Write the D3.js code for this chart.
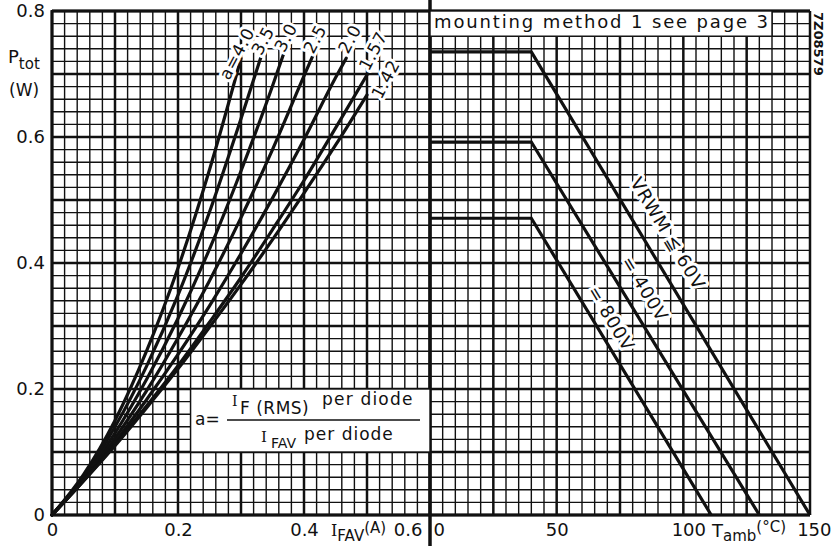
<!DOCTYPE html>
<html>
<head>
<meta charset="utf-8">
<script src="https://cdn.jsdelivr.net/npm/d3@7"></script>
<style>
	html, body { margin: 0; padding: 0; background: #fff; }
	svg { display: block; font-family: "DejaVu Sans", sans-serif; }
	.halo { paint-order: stroke; stroke: #fff; stroke-width: 6px; stroke-linejoin: round; }
</style>
</head>
<body>
<svg id="chart" width="832" height="546"></svg>
<script>
	'use strict';

	// axis ticks
	var currentTicks = [0, 0.2, 0.4, 0.6];
	var powerTicks = [0, 0.2, 0.4, 0.6, 0.8];
	var tempTicks = [0, 50, 100, 150];

	// left panel: P_tot vs I_FAV for each form factor a
	var formFactors = ['a=4.0', '3.5', '3.0', '2.5', '2.0', '1.57', '1.42'];
	var curveCurrents = [
		[0, 0.05, 0.10, 0.15, 0.20, 0.25, 0.30],
		[0, 0.05, 0.10, 0.15, 0.20, 0.25, 0.30, 0.332],
		[0, 0.05, 0.10, 0.15, 0.20, 0.25, 0.30, 0.35, 0.367],
		[0, 0.05, 0.10, 0.15, 0.20, 0.25, 0.30, 0.35, 0.40, 0.414],
		[0, 0.05, 0.10, 0.15, 0.20, 0.25, 0.30, 0.35, 0.40, 0.45, 0.467],
		[0, 0.05, 0.10, 0.15, 0.20, 0.25, 0.30, 0.35, 0.40, 0.45, 0.502],
		[0, 0.05, 0.10, 0.15, 0.20, 0.25, 0.30, 0.35, 0.40, 0.45, 0.50]];
	var curvePowers = [
		[0, 0.064, 0.150, 0.260, 0.392, 0.548, 0.725],
		[0, 0.061, 0.140, 0.236, 0.349, 0.481, 0.629, 0.728],
		[0, 0.059, 0.130, 0.215, 0.312, 0.422, 0.546, 0.681, 0.730],
		[0, 0.057, 0.122, 0.197, 0.281, 0.372, 0.472, 0.580, 0.697, 0.729],
		[0, 0.055, 0.116, 0.183, 0.255, 0.332, 0.415, 0.503, 0.596, 0.694, 0.725],
		[0, 0.054, 0.112, 0.173, 0.237, 0.306, 0.377, 0.453, 0.531, 0.614, 0.702],
		[0, 0.054, 0.110, 0.170, 0.232, 0.298, 0.366, 0.437, 0.511, 0.587, 0.667]];

	// right panel: derating vs T_amb
	var deratingLabels = ['VRWM \u2266 60V', '= 400V', '= 800V'];
	var deratingTemps = [[0, 40, 150], [0, 40, 130], [0, 40, 111]];
	var deratingPowers = [[0.735, 0.735, 0], [0.592, 0.592, 0], [0.471, 0.471, 0]];

	// label placement (pixels, in rotated frame)
	var curveLabelPos = [
		{anchor: 'end', dx: 30, dy: 0}, {anchor: 'start', dx: 0, dy: 0},
		{anchor: 'start', dx: 2, dy: 0}, {anchor: 'start', dx: 1, dy: 0},
		{anchor: 'start', dx: 4, dy: 0}, {anchor: 'start', dx: 1, dy: 0},
		{anchor: 'start', dx: 2, dy: 15}];
	var deratingLabelPos = [{t: 86, off: 17}, {t: 78, off: 14}, {t: 66, off: 10}];

	var ink = '#111';
	var svg = d3.select('#chart');

	var xI = d3.scaleLinear().domain([0, 0.6]).range([52, 430]);
	var xT = d3.scaleLinear().domain([0, 150]).range([430, 810]);
	var y = d3.scaleLinear().domain([0, 0.8]).range([515, 11]);

	// grid
	var grid = svg.append('g');
	var gridP = d3.range(41).map(function(k) {return {v: k * 0.02, major: k % 5 === 0};});
	var gridI = d3.range(31).map(function(k) {return {v: k * 0.02, major: k % 5 === 0};});
	var gridT = d3.range(31).map(function(k) {return {v: k * 5, major: k % 5 === 0};});

	function width(d) {return d.major ? 2.5 : 1.4;}

	grid.selectAll('.h').data(gridP).enter().append('line')
		.attr('x1', xI(0)).attr('x2', xT(150))
		.attr('y1', function(d) {return y(d.v);})
		.attr('y2', function(d) {return y(d.v);})
		.attr('stroke', ink).attr('stroke-width', width);
	grid.selectAll('.vi').data(gridI).enter().append('line')
		.attr('x1', function(d) {return xI(d.v);})
		.attr('x2', function(d) {return xI(d.v);})
		.attr('y1', y(0)).attr('y2', y(0.8))
		.attr('stroke', ink).attr('stroke-width', width);
	grid.selectAll('.vt').data(gridT).enter().append('line')
		.attr('x1', function(d) {return xT(d.v);})
		.attr('x2', function(d) {return xT(d.v);})
		.attr('y1', y(0)).attr('y2', y(0.8))
		.attr('stroke', ink).attr('stroke-width', width);

	// frame
	grid.append('line').attr('x1', xI(0)).attr('x2', xI(0)).attr('y1', y(0) + 1).attr('y2', y(0.8) - 1)
		.attr('stroke', ink).attr('stroke-width', 3);
	grid.append('line').attr('x1', xI(0)).attr('x2', xT(150)).attr('y1', y(0)).attr('y2', y(0))
		.attr('stroke', ink).attr('stroke-width', 3);
	grid.append('line').attr('x1', xI(0)).attr('x2', xT(150)).attr('y1', y(0.8)).attr('y2', y(0.8))
		.attr('stroke', ink).attr('stroke-width', 3);
	grid.append('line').attr('x1', xI(0.6)).attr('x2', xI(0.6)).attr('y1', 0).attr('y2', 546)
		.attr('stroke', ink).attr('stroke-width', 3.5);

	// formula box
	svg.append('rect')
		.attr('x', xI(0.22)).attr('y', y(0.2))
		.attr('width', xI(0.6) - xI(0.22)).attr('height', y(0.1) - y(0.2))
		.attr('fill', '#fff').attr('stroke', ink).attr('stroke-width', 1.4);
	var fb = svg.append('g').attr('fill', ink);
	fb.append('text').attr('x', 195).attr('y', 425).attr('font-size', 17).text('a=');
	fb.append('line').attr('x1', 227).attr('x2', 420).attr('y1', 420).attr('y2', 420)
		.attr('stroke', ink).attr('stroke-width', 1.5);
	var num = fb.append('text').attr('x', 232).attr('y', 406).attr('font-size', 17);
	num.append('tspan').attr('font-family', '"DejaVu Serif", serif').attr('font-size', 14).text('I');
	num.append('tspan').attr('x', 240).attr('y', 414).attr('letter-spacing', 0.5).text('F (RMS)');
	num.append('tspan').attr('x', 322).attr('y', 405).attr('letter-spacing', 1.2).text('per diode');
	var den = fb.append('text').attr('x', 261).attr('y', 442).attr('font-size', 17);
	den.append('tspan').attr('font-family', '"DejaVu Serif", serif').attr('font-size', 15).text('I');
	den.append('tspan').attr('x', 271).attr('y', 448).attr('font-size', 14).text('FAV');
	den.append('tspan').attr('x', 304).attr('y', 440).attr('letter-spacing', 1).text('per diode');

	// mounting box
	svg.append('rect')
		.attr('x', xT(0)).attr('y', y(0.8))
		.attr('width', xT(135) - xT(0)).attr('height', y(0.76) - y(0.8))
		.attr('fill', '#fff').attr('stroke', ink).attr('stroke-width', 1.4);
	svg.append('text').attr('x', 434).attr('y', 28).attr('font-size', 18).attr('fill', ink)
		.attr('textLength', 334).attr('lengthAdjust', 'spacing')
		.text('mounting  method 1 see  page 3');

	// P_tot curves
	var line = d3.line()
		.x(function(d) {return xI(d[0]);})
		.y(function(d) {return y(d[1]);})
		.curve(d3.curveMonotoneX);
	var curves = formFactors.map(function(name, i) {
		return {name: name, pts: curveCurrents[i].map(function(c, j) {return [c, curvePowers[i][j]];})};});

	svg.append('g').selectAll('path').data(curves).enter().append('path')
		.attr('d', function(d) {return line(d.pts);})
		.attr('fill', 'none').attr('stroke', ink).attr('stroke-width', 3.2)
		.attr('stroke-linecap', 'round');

	svg.append('g').selectAll('text').data(curves).enter().append('text')
		.attr('class', 'halo')
		.attr('transform', function(d) {
			var e = d.pts[d.pts.length - 1];
			return 'translate(' + xI(e[0]) + ',' + y(e[1]) + ') rotate(-62)';})
		.attr('x', function(d, i) {return curveLabelPos[i].dx;})
		.attr('y', function(d, i) {return curveLabelPos[i].dy;})
		.attr('text-anchor', function(d, i) {return curveLabelPos[i].anchor;})
		.attr('font-size', 17).attr('letter-spacing', 0.8).attr('fill', ink)
		.text(function(d) {return d.name;});

	// derating lines
	var tline = d3.line()
		.x(function(d) {return xT(d[0]);})
		.y(function(d) {return y(d[1]);});
	var derating = deratingLabels.map(function(name, i) {
		return {name: name, pts: deratingTemps[i].map(function(t, j) {return [t, deratingPowers[i][j]];})};});

	svg.append('g').selectAll('path').data(derating).enter().append('path')
		.attr('d', function(d) {return tline(d.pts);})
		.attr('fill', 'none').attr('stroke', ink).attr('stroke-width', 3.2);

	svg.append('g').selectAll('text').data(derating).enter().append('text')
		.attr('class', 'halo')
		.attr('transform', function(d, i) {
			var a = d.pts[1], b = d.pts[2];
			var t = deratingLabelPos[i].t;
			var p = a[1] * (b[0] - t) / (b[0] - a[0]);
			var ang = Math.atan2(y(b[1]) - y(a[1]), xT(b[0]) - xT(a[0])) * 180 / Math.PI;
			return 'translate(' + xT(t) + ',' + y(p) + ') rotate(' + ang + ')';})
		.attr('y', function(d, i) {return -deratingLabelPos[i].off;})
		.attr('text-anchor', 'middle')
		.attr('font-size', 18).attr('letter-spacing', 0.8).attr('fill', ink)
		.text(function(d) {return d.name;});

	// axes
	function fmt(d) {return d === 0 ? '0' : d3.format('.1f')(d);}
	var axY = svg.append('g').attr('transform', 'translate(' + xI(0) + ',0)')
		.call(d3.axisLeft(y).tickValues(powerTicks).tickFormat(fmt).tickSize(0).tickPadding(7));
	var axI = svg.append('g').attr('transform', 'translate(0,' + y(0) + ')')
		.call(d3.axisBottom(xI).tickValues(currentTicks).tickFormat(fmt).tickSize(0).tickPadding(8));
	var axT = svg.append('g').attr('transform', 'translate(0,' + y(0) + ')')
		.call(d3.axisBottom(xT).tickValues(tempTicks).tickSize(0).tickPadding(8));
	[axY, axI, axT].forEach(function(ax) {
		ax.select('.domain').remove();
		ax.selectAll('text').attr('font-size', 18).attr('font-family', '"DejaVu Sans", sans-serif')
			.attr('fill', ink);});
	axI.selectAll('text').filter(function(d) {return d === 0.6;})
		.attr('text-anchor', 'end').attr('x', -8);
	axT.selectAll('text').filter(function(d) {return d === 0;})
		.attr('text-anchor', 'start').attr('x', 3);
	axT.selectAll('text').filter(function(d) {return d === 100;}).attr('x', 5);
	axT.selectAll('text').filter(function(d) {return d === 150;})
		.attr('text-anchor', 'end').attr('x', 21);

	// axis titles
	var ty = svg.append('text').attr('x', 8).attr('y', 63).attr('font-size', 18).attr('fill', ink);
	ty.append('tspan').text('P');
	ty.append('tspan').attr('y', 69).attr('font-size', 15).text('tot');
	svg.append('text').attr('x', 9).attr('y', 96).attr('font-size', 17).attr('fill', ink).text('(W)');

	var ti = svg.append('text').attr('x', 331).attr('y', 536).attr('font-size', 18).attr('fill', ink);
	ti.append('tspan').attr('font-family', '"DejaVu Serif", serif').attr('font-size', 16).text('I');
	ti.append('tspan').attr('y', 541).attr('font-size', 15).text('FAV');
	ti.append('tspan').attr('y', 533).attr('font-size', 15).text('(A)');

	var tt = svg.append('text').attr('x', 712).attr('y', 537).attr('font-size', 18).attr('fill', ink);
	tt.append('tspan').text('T');
	tt.append('tspan').attr('y', 541).attr('font-size', 15).text('amb');
	tt.append('tspan').attr('y', 532).attr('font-size', 15).text('(°C)');

	// drawing number
	svg.append('text').attr('transform', 'translate(814,12) rotate(90)')
		.attr('font-size', 13).attr('font-weight', 'bold').attr('fill', ink)
		.text('7Z08579');
</script>
</body>
</html>
